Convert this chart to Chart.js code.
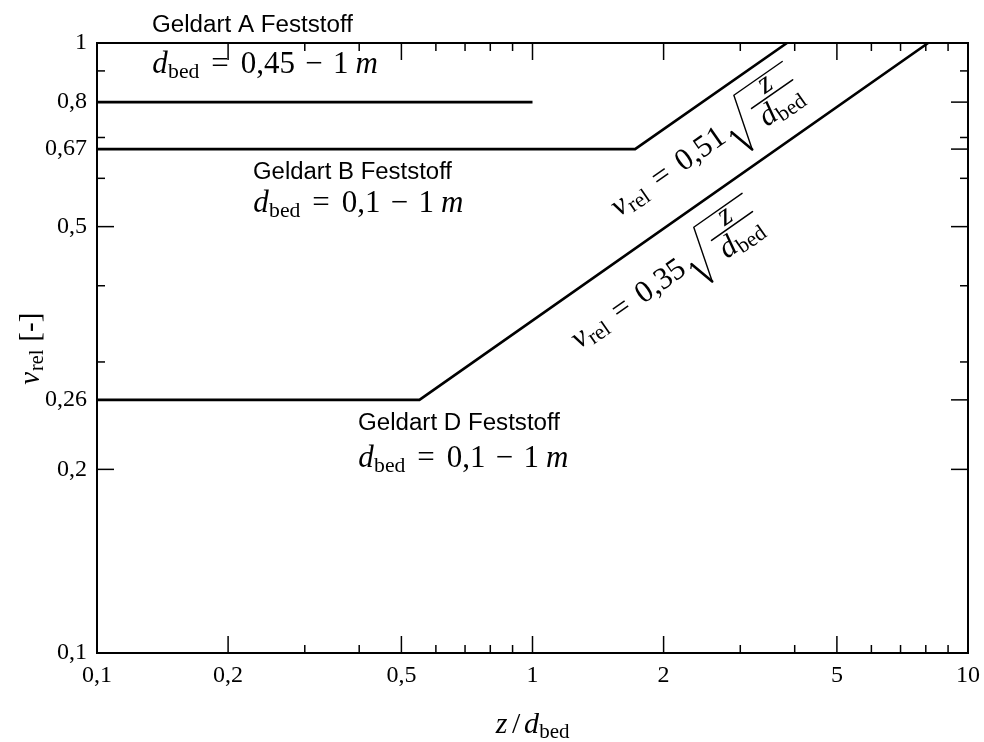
<!DOCTYPE html>
<html>
<head>
<meta charset="utf-8">
<script src="https://cdn.jsdelivr.net/npm/chart.js@4.4.1/dist/chart.umd.min.js"></script>
<style>
html,body{margin:0;padding:0;background:#fff;}
#c{display:block;}
</style>
</head>
<body>
<canvas id="c" width="984" height="742"></canvas>
<script>
// ---- data ----
const lineA_x = [0.1, 1];
const lineA_y = [0.8, 0.8];
const lineB_x = [0.1, 1.72, 3.84];
const lineB_y = [0.67, 0.67, 1];
const lineD_x = [0.1, 0.55, 8.1];
const lineD_y = [0.26, 0.26, 1];

const xTickLabels = [0.1, 0.2, 0.5, 1, 2, 5, 10];
const xMinorTicks = [0.3, 0.4, 0.6, 0.7, 0.8, 0.9, 3, 4, 6, 7, 8, 9];
const yTickLabels = [0.1, 0.2, 0.26, 0.5, 0.67, 0.8, 1];
const yMinorTicks = [0.3, 0.4, 0.6, 0.7, 0.9];

const labelA = 'Geldart A Feststoff';
const labelB = 'Geldart B Feststoff';
const labelD = 'Geldart D Feststoff';
const rangeA = '0,45';
const rangeB = '0,1';
const rangeD = '0,1';
const coefB = '0,51';
const coefD = '0,35';

const toPts = (xs, ys) => xs.map((v, i) => ({x: v, y: ys[i]}));
const fmt = v => String(v).replace('.', ',');

const SERIF = '"Liberation Serif", "Times New Roman", serif';
const SANS = '"Liberation Sans", Arial, sans-serif';

// math-like text run: items drawn sequentially from (0,0) on baseline
function mathRun(ctx, items, base, draw = true) {
  let cx = 0;
  for (const it of items) {
    if (it.gap !== undefined) { cx += it.gap * base; continue; }
    const s = (it.s || 1) * base;
    ctx.font = (it.i ? 'italic ' : '') + s + 'px ' + SERIF;
    const w = ctx.measureText(it.t).width;
    const bw = it.w !== undefined ? it.w * base : w;
    if (draw) ctx.fillText(it.t, cx + (bw - w) / 2, (it.dy || 0) * base);
    cx += bw;
  }
  return cx;
}

function dbedItems(range) {
  return [{t:'d', i:1, w:0.52}, {t:'bed', s:0.7, dy:0.15}, {gap:0.278}, {t:'=', w:0.778}, {gap:0.278},
          {t:range}, {gap:0.222}, {t:'\u2212', w:0.778}, {gap:0.222}, {t:'1'}, {gap:0.167}, {t:'m', i:1, w:0.85}];
}

function sansLabel(ctx, text, x, y, targetW) {
  ctx.save();
  ctx.font = '23px ' + SANS;
  const w = ctx.measureText(text).width;
  ctx.translate(x, y);
  ctx.scale(targetW / w, 1);
  ctx.fillText(text, 0, 0);
  ctx.restore();
}

function drawFormula(ctx, hx, hy, ang, coef, base) {
  const items = [{t:'v', i:1, w:0.49}, {t:'rel', s:0.7, dy:0.15}, {gap:0.278}, {t:'=', w:0.778}, {gap:0.278}, {t:coef}, {gap:0.167}];
  const w = mathRun(ctx, items, base, false);
  ctx.save();
  ctx.translate(hx, hy);
  ctx.rotate(-ang);
  ctx.translate(-w, 0);
  mathRun(ctx, items, base, true);
  const r = w;
  // radical
  ctx.lineCap = 'round';
  ctx.lineJoin = 'round';
  ctx.lineWidth = 1.3;
  ctx.beginPath(); ctx.moveTo(r, -2); ctx.lineTo(r + 3, -5); ctx.stroke();
  ctx.lineWidth = 2.6;
  ctx.beginPath(); ctx.moveTo(r + 3, -5); ctx.lineTo(r + 10, 21); ctx.stroke();
  ctx.lineWidth = 1.4;
  ctx.beginPath(); ctx.moveTo(r + 10, 21); ctx.lineTo(r + 26, -34); ctx.lineTo(r + 85, -34); ctx.stroke();
  // fraction bar
  ctx.lineWidth = 1.6;
  ctx.beginPath(); ctx.moveTo(r + 33, -13); ctx.lineTo(r + 83, -13); ctx.stroke();
  const cxm = r + 58;
  // numerator
  ctx.font = 'italic ' + base + 'px ' + SERIF;
  const zw = ctx.measureText('z').width;
  ctx.fillText('z', cxm - zw / 2, -17);
  // denominator
  const den = [{t:'d', i:1, w:0.52}, {t:'bed', s:0.7, dy:0.15}];
  const dw = mathRun(ctx, den, base, false);
  ctx.save();
  ctx.translate(cxm - dw / 2, 11);
  mathRun(ctx, den, base, true);
  ctx.restore();
  ctx.restore();
}

const decor = {
  id: 'decor',
  afterDatasetsDraw(chart) {
    const {ctx, chartArea: a, scales: {x, y}} = chart;
    ctx.save();
    ctx.strokeStyle = '#000';
    ctx.fillStyle = '#000';
    // frame
    ctx.lineWidth = 2;
    ctx.strokeRect(a.left, a.top, a.right - a.left, a.bottom - a.top);
    // inward ticks
    const MAJ = 17, MIN = 8;
    ctx.lineWidth = 1.5;
    const seg = (x0, y0, x1, y1) => { ctx.beginPath(); ctx.moveTo(x0, y0); ctx.lineTo(x1, y1); ctx.stroke(); };
    const xt = (v, L) => { const p = x.getPixelForValue(v); seg(p, a.bottom, p, a.bottom - L); seg(p, a.top, p, a.top + L); };
    const yt = (v, L) => { const p = y.getPixelForValue(v); seg(a.left, p, a.left + L, p); seg(a.right, p, a.right - L, p); };
    xTickLabels.forEach(v => xt(v, MAJ));
    xMinorTicks.forEach(v => xt(v, MIN));
    yTickLabels.forEach(v => yt(v, MAJ));
    yMinorTicks.forEach(v => yt(v, MIN));

    ctx.textBaseline = 'alphabetic';
    ctx.textAlign = 'left';
    // group labels
    sansLabel(ctx, labelA, 152, 32, 201);
    sansLabel(ctx, labelB, 253, 179, 199);
    sansLabel(ctx, labelD, 358, 430, 202);
    const M = 31;
    ctx.save(); ctx.translate(152, 73); mathRun(ctx, dbedItems(rangeA), M); ctx.restore();
    ctx.save(); ctx.translate(253, 212); mathRun(ctx, dbedItems(rangeB), M); ctx.restore();
    ctx.save(); ctx.translate(358, 467); mathRun(ctx, dbedItems(rangeD), M); ctx.restore();

    // slanted formulas aligned with the lines
    const angOf = (xs, ys) => {
      const n = xs.length;
      const dx = x.getPixelForValue(xs[n - 1]) - x.getPixelForValue(xs[n - 2]);
      const dy = y.getPixelForValue(ys[n - 1]) - y.getPixelForValue(ys[n - 2]);
      return Math.atan2(-dy, dx);
    };
    drawFormula(ctx, 732, 138, angOf(lineB_x, lineB_y), coefB, M);
    drawFormula(ctx, 692, 270, angOf(lineD_x, lineD_y), coefD, M);

    // axis titles
    const xt_items = [{t:'z', i:1, w:0.47}, {t:'/', w:0.5}, {t:'d', i:1, w:0.52}, {t:'bed', s:0.7, dy:0.15}];
    const T = 30;
    const xw = mathRun(ctx, xt_items, T, false);
    ctx.save(); ctx.translate(532 - xw / 2, 733); mathRun(ctx, xt_items, T); ctx.restore();
    const yt_items = [{t:'v', i:1, w:0.49}, {t:'rel', s:0.7, dy:0.15}, {gap:0.278}, {t:'[-]'}];
    const yw = mathRun(ctx, yt_items, 29, false);
    ctx.save(); ctx.translate(39, 349); ctx.rotate(-Math.PI / 2); ctx.translate(-yw / 2, 0); mathRun(ctx, yt_items, 29); ctx.restore();
    ctx.restore();
  }
};

const lineStyle = {borderColor: '#000', borderWidth: 2.6, pointRadius: 0, showLine: true, fill: false, tension: 0};

new Chart(document.getElementById('c'), {
  type: 'scatter',
  data: {
    datasets: [
      Object.assign({label: labelA, data: toPts(lineA_x, lineA_y)}, lineStyle),
      Object.assign({label: labelB, data: toPts(lineB_x, lineB_y)}, lineStyle),
      Object.assign({label: labelD, data: toPts(lineD_x, lineD_y)}, lineStyle)
    ]
  },
  options: {
    responsive: false,
    animation: false,
    layout: {padding: {top: 43, right: 16, left: 0, bottom: 0}},
    plugins: {legend: {display: false}, tooltip: {enabled: false}},
    scales: {
      x: {
        type: 'logarithmic', min: 0.1, max: 10,
        grid: {display: false, drawTicks: false},
        border: {display: false},
        afterBuildTicks: s => { s.ticks = xTickLabels.map(v => ({value: v})); },
        afterFit: s => { s.height = 89; s.paddingLeft = 0; s.paddingRight = 0; },
        ticks: {color: '#000', font: {family: SERIF, size: 24}, padding: 8, autoSkip: false, maxRotation: 0, callback: v => fmt(v)}
      },
      y: {
        type: 'logarithmic', min: 0.1, max: 1,
        grid: {display: false, drawTicks: false},
        border: {display: false},
        afterBuildTicks: s => { s.ticks = yTickLabels.map(v => ({value: v})); },
        afterFit: s => { s.width = 97; s.paddingTop = 0; s.paddingBottom = 0; },
        ticks: {color: '#000', font: {family: SERIF, size: 24}, padding: 10, autoSkip: false, callback: v => fmt(v)}
      }
    }
  },
  plugins: [decor]
});
</script>
</body>
</html>
